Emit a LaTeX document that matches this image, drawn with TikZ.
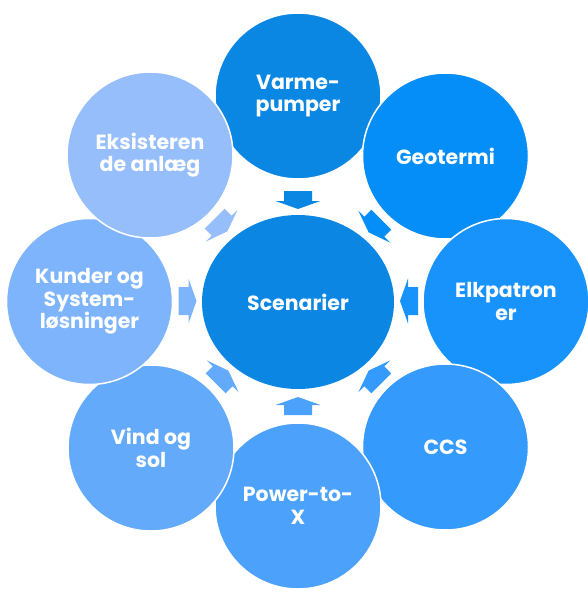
\documentclass[tikz,border=0pt]{standalone}
\usepackage{fontspec}
\setmainfont{Poppins}
\usetikzlibrary{shapes.geometric}
\definecolor{cCenter}{RGB}{11,135,227}
\definecolor{cVarme}{RGB}{10,135,227}
\definecolor{cGeo}{RGB}{5,141,248}
\definecolor{cElk}{RGB}{25,147,252}
\definecolor{cCCS}{RGB}{52,154,252}
\definecolor{cPtx}{RGB}{76,161,251}
\definecolor{cVind}{RGB}{100,170,251}
\definecolor{cKunder}{RGB}{125,180,251}
\definecolor{cEks}{RGB}{150,190,250}
\tikzset{
  lbl/.style={text=white, align=center, font=\fontsize{20.5}{22.5}\selectfont\bfseries},
  bubble/.style={circle, minimum size=166pt, draw=white, line width=1.5pt, lbl, inner sep=0pt},
  barrow/.pic={\fill (-9,-14) -- (1,-14) -- (1,-22.5) -- (9,0) -- (1,22.5) -- (1,14) -- (-9,14) -- cycle;}
}
\begin{document}
\begin{tikzpicture}[x=1pt,y=-1pt]
\useasboundingbox (0,0) rectangle (587,594);
\node[bubble, fill=cVarme] (varme) at (298,96) {Varme-\\pumper};
\node[bubble, fill=cGeo] (geo) at (445.5,156) {Geotermi};
\node[bubble, fill=cElk] (elk) at (506,301.5) {Elkpatron\\er};
\node[bubble, fill=cCCS] (ccs) at (445.5,447) {CCS};
\node[bubble, fill=cPtx] (ptx) at (298,506) {Power-to-\\X};
\node[bubble, fill=cVind] (vind) at (151,448) {Vind og\\sol};
\node[bubble, fill=cKunder] (kunder) at (89.5,301.5) {Kunder og\\System-\\løsninger};
\node[bubble, fill=cEks] (eks) at (150,155) {Eksisteren\\de anlæg};
\node[ellipse, minimum width=192pt, minimum height=174pt, fill=cCenter, lbl,
  inner sep=0pt] (scen) at (298,302) {Scenarier};
\pic[fill=cVarme, rotate=-90] at (298,200) {barrow};
\pic[fill=cGeo, rotate=-135] at (375,226) {barrow};
\pic[fill=cElk, rotate=180] at (409,301) {barrow};
\pic[fill=cCCS, rotate=135] at (375,377) {barrow};
\pic[fill=cPtx, rotate=90] at (298,406) {barrow};
\pic[fill=cVind, rotate=45] at (222,377) {barrow};
\pic[fill=cKunder, rotate=0] at (187.5,301) {barrow};
\pic[fill=cEks, rotate=-45] at (221,225) {barrow};
\end{tikzpicture}
\end{document}
